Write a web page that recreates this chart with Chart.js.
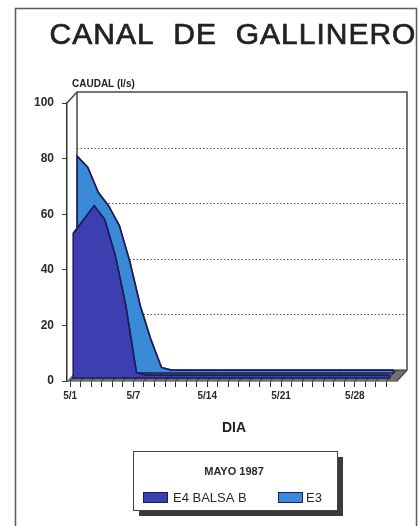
<!DOCTYPE html>
<html>
<head>
<meta charset="utf-8">
<script src="https://cdn.jsdelivr.net/npm/chart.js@4/dist/chart.umd.min.js"></script>
<style>
  html, body { margin: 0; padding: 0; background: #ffffff; }
  canvas { display: block; }
</style>
</head>
<body>
<canvas id="chart" width="419" height="526"></canvas>
<script>
// Daily flow, May 1987 (l/s)
const days = [1, 2, 3, 4, 5, 6, 7, 8, 9, 10, 11, 12, 13, 14, 15, 16, 17, 18, 19, 20,
              21, 22, 23, 24, 25, 26, 27, 28, 29, 30, 31];
const tickDays = [1, 7, 14, 21, 28];
const tickLabels = ['5/1', '5/7', '5/14', '5/21', '5/28'];
const e4BalsaB = [52, 57, 62, 57, 44, 26, 2, 1, 1, 1, 1, 1, 1, 1, 1, 1,
                  1, 1, 1, 1, 1, 1, 1, 1, 1, 1, 1, 1, 1, 1, 1];
const e3 = [78, 74, 65, 60, 53, 40, 24, 12, 2, 1, 1, 1, 1, 1, 1, 1,
            1, 1, 1, 1, 1, 1, 1, 1, 1, 1, 1, 1, 1, 1, 1];
const seriesNames = ['E4 BALSA B', 'E3'];
const seriesColors = ['#3b3fb0', '#3b8ad8'];
const outline = '#1d1d5c';

const FONT = '"Liberation Sans", Arial, Helvetica, sans-serif';
const wall = { dx: 10, dy: -11 };                          // back wall offset of the pseudo-3D box
const rowShift = [{ dx: 3, dy: -3 }, { dx: 7, dy: -8 }];   // depth row of each series

const depthPlugin = {
  id: 'depth',
  beforeDraw(chart) {
    const ctx = chart.ctx;
    ctx.save();
    ctx.fillStyle = '#ffffff';
    ctx.fillRect(0, 0, chart.width, chart.height);
    // outer frame
    ctx.strokeStyle = '#5a5a5a';
    ctx.lineWidth = 1.5;
    ctx.strokeRect(15.5, 8.5, 401, 530);
    // title, slightly heavier than the regular face
    ctx.fillStyle = '#222';
    ctx.strokeStyle = '#222';
    ctx.lineWidth = 0.7;
    ctx.font = '30px ' + FONT;
    ctx.textAlign = 'center';
    ctx.textBaseline = 'alphabetic';
    ctx.letterSpacing = '1px';
    ctx.fillText('CANAL  DE  GALLINERO', 233, 44);
    ctx.strokeText('CANAL  DE  GALLINERO', 233, 44);
    ctx.letterSpacing = '0px';
    // y-axis caption
    ctx.font = 'bold 10px ' + FONT;
    ctx.textAlign = 'left';
    ctx.fillText('CAUDAL (l/s)', 72, 87);
    // x-axis caption
    ctx.font = 'bold 14px ' + FONT;
    ctx.textAlign = 'center';
    ctx.fillText('DIA', 234, 432);
    ctx.restore();
  },
  beforeDatasetsDraw(chart) {
    const ctx = chart.ctx;
    const a = chart.chartArea;
    const y = chart.scales.y;
    const x = chart.scales.x;
    const L = a.left + wall.dx, R = a.right + wall.dx;
    const T = a.top + wall.dy, B = a.bottom + wall.dy;
    ctx.save();
    // floor with a depth line at each day
    ctx.fillStyle = '#707070';
    ctx.beginPath();
    ctx.moveTo(a.left, a.bottom);
    ctx.lineTo(a.right, a.bottom);
    ctx.lineTo(R, B);
    ctx.lineTo(L, B);
    ctx.closePath();
    ctx.fill();
    ctx.strokeStyle = '#2a2a2a';
    ctx.lineWidth = 1;
    days.forEach(d => {
      const px = x.getPixelForValue(d);
      ctx.beginPath();
      ctx.moveTo(px, a.bottom);
      ctx.lineTo(px + wall.dx, B);
      ctx.stroke();
    });
    ctx.beginPath();
    ctx.moveTo(L, B);
    ctx.lineTo(R, B);
    ctx.stroke();
    // dotted grid on the back wall
    ctx.strokeStyle = '#555';
    ctx.setLineDash([1.5, 2]);
    [20, 40, 60, 80].forEach(v => {
      const py = Math.round(y.getPixelForValue(v) + wall.dy) + 0.5;
      ctx.beginPath();
      ctx.moveTo(L, py);
      ctx.lineTo(R, py);
      ctx.stroke();
    });
    ctx.setLineDash([]);
    // wall edges and connectors
    ctx.strokeStyle = '#4a4a4a';
    ctx.lineWidth = 1.5;
    ctx.beginPath();
    ctx.moveTo(a.left, a.top);
    ctx.lineTo(L, T);
    ctx.lineTo(R, T);
    ctx.lineTo(R, B);
    ctx.lineTo(a.right, a.bottom);
    ctx.moveTo(L, T);
    ctx.lineTo(L, B);
    ctx.stroke();
    ctx.restore();
  },
  beforeDatasetDraw(chart, args) {
    const ctx = chart.ctx;
    const s = rowShift[args.index];
    ctx.save();
    ctx.translate(s.dx, s.dy);
    // area under the series, from the points placed by the scales
    const pts = args.meta.data;
    const base = chart.scales.y.getPixelForValue(0);
    ctx.beginPath();
    ctx.moveTo(pts[0].x, base);
    pts.forEach(p => ctx.lineTo(p.x, p.y));
    ctx.lineTo(pts[pts.length - 1].x, base);
    ctx.closePath();
    ctx.fillStyle = seriesColors[args.index];
    ctx.fill();
    ctx.strokeStyle = outline;
    ctx.lineWidth = 1.5;
    ctx.stroke();
  },
  afterDatasetDraw(chart) {
    chart.ctx.restore();
  },
  afterDraw(chart) {
    const ctx = chart.ctx;
    ctx.save();
    // legend box with drop shadow
    const bx = 133, by = 451, bw = 204, bh = 59;
    ctx.fillStyle = '#3a3a3a';
    ctx.fillRect(bx + 6, by + 6, bw, bh);
    ctx.fillStyle = '#ffffff';
    ctx.fillRect(bx, by, bw, bh);
    ctx.strokeStyle = '#444';
    ctx.lineWidth = 1;
    ctx.strokeRect(bx + 0.5, by + 0.5, bw, bh);
    ctx.fillStyle = '#2a2a2a';
    ctx.font = 'bold 11px ' + FONT;
    ctx.textAlign = 'center';
    ctx.textBaseline = 'middle';
    ctx.fillText('MAYO 1987', 234, 472);
    const items = [{ sx: 143, tx: 173 }, { sx: 278, tx: 306 }];
    ctx.textAlign = 'left';
    ctx.font = '13px ' + FONT;
    items.forEach((it, i) => {
      ctx.fillStyle = seriesColors[i];
      ctx.fillRect(it.sx, 492, 24, 10);
      ctx.strokeStyle = outline;
      ctx.strokeRect(it.sx + 0.5, 492.5, 24, 10);
      ctx.fillStyle = '#2a2a2a';
      ctx.fillText(seriesNames[i], it.tx, 498);
    });
    ctx.restore();
  }
};

new Chart(document.getElementById('chart'), {
  type: 'line',
  data: {
    datasets: [
      {
        label: seriesNames[0],
        data: days.map((d, i) => ({ x: d, y: e4BalsaB[i] })),
        fill: false,
        backgroundColor: seriesColors[0],
        borderColor: outline,
        borderWidth: 1.5,
        pointRadius: 0,
        tension: 0,
        clip: false
      },
      {
        label: seriesNames[1],
        data: days.map((d, i) => ({ x: d, y: e3[i] })),
        fill: false,
        backgroundColor: seriesColors[1],
        borderColor: outline,
        borderWidth: 1.5,
        pointRadius: 0,
        tension: 0,
        clip: false
      }
    ]
  },
  options: {
    responsive: false,
    animation: false,
    devicePixelRatio: 1,
    layout: { padding: { left: 0, top: 103, right: 22, bottom: 115 } },
    plugins: {
      legend: { display: false },
      title: { display: false },
      tooltip: { enabled: false }
    },
    scales: {
      x: {
        type: 'linear',
        min: 0.7,
        max: 32,
        afterBuildTicks: s => { s.ticks = days.map(d => ({ value: d })); },
        afterFit: s => { s.height = 30; },
        ticks: {
          autoSkip: false,
          maxRotation: 0,
          padding: 3,
          color: '#2a2a2a',
          font: { family: FONT, weight: 'bold', size: 10 },
          callback: v => {
            const k = tickDays.indexOf(v);
            return k >= 0 ? tickLabels[k] : '';
          }
        },
        grid: { drawOnChartArea: false, drawTicks: true, tickLength: 6, color: '#333', lineWidth: 1 },
        border: { display: true, color: '#333', width: 1.5 }
      },
      y: {
        min: 0,
        max: 100,
        afterFit: s => { s.width = 67; },
        ticks: {
          stepSize: 20,
          padding: 8,
          color: '#2a2a2a',
          font: { family: FONT, weight: 'bold', size: 12 }
        },
        grid: { drawOnChartArea: false, drawTicks: true, tickLength: 5, color: '#333', lineWidth: 1 },
        border: { display: true, color: '#333', width: 1.5 }
      }
    }
  },
  plugins: [depthPlugin]
});
</script>
</body>
</html>
